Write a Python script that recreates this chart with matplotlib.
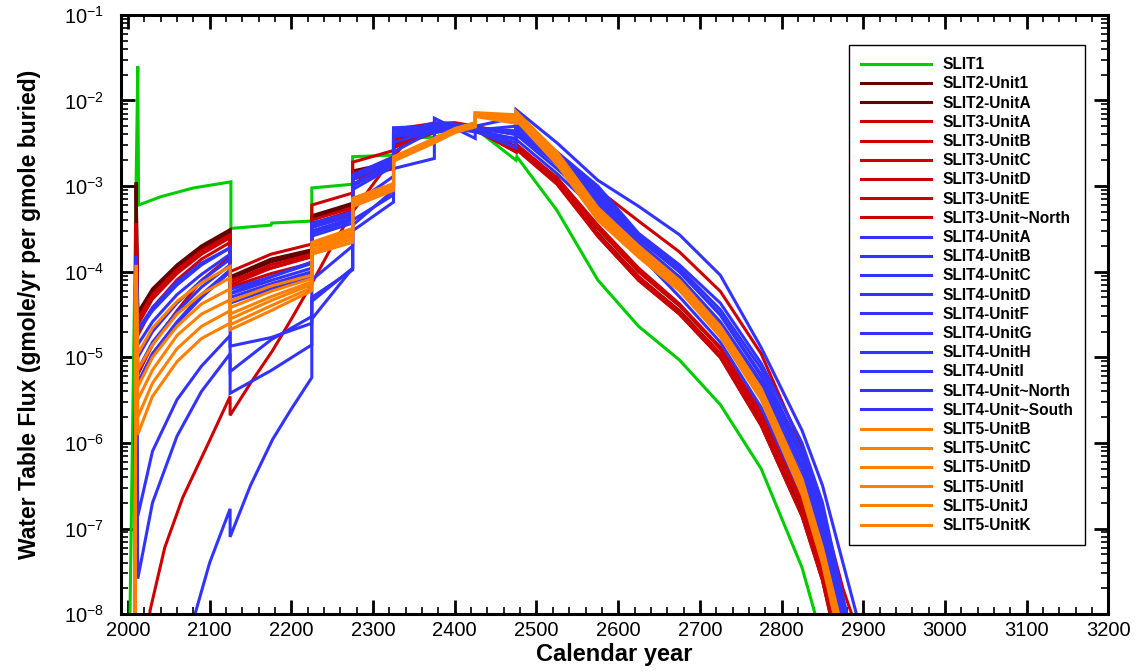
import matplotlib
matplotlib.use("Agg")
import matplotlib.pyplot as plt
from matplotlib.ticker import MultipleLocator, LogLocator, NullFormatter, FixedLocator

plt.rcParams['font.family'] = ['Liberation Sans', 'DejaVu Sans']

# --- data (year, flux) ---
# common year grid; repeated years are the step changes
YR_STD = [2008, 2010, 2012, 2030, 2060, 2090, 2125, 2125, 2175, 2225, 2225, 2275, 2275,
          2325, 2325, 2375, 2400, 2425, 2425, 2475, 2475, 2525, 2575, 2625, 2675, 2725,
          2775, 2825, 2850, 2875, 2900]

yr_slit1 = [2002, 2012, 2013, 2040, 2080, 2126, 2126, 2175, 2176, 2225, 2225, 2275, 2275,
            2325, 2325, 2375, 2400, 2425, 2475, 2476, 2525, 2575, 2625, 2675, 2725, 2775,
            2825, 2850]
q_slit1 = [5e-9, 2.5e-2, 6.0e-4, 7.5e-4, 9.5e-4, 1.12e-3, 3.2e-4, 3.5e-4, 3.7e-4, 3.9e-4,
           9.5e-4, 1.05e-3, 2.2e-3, 2.3e-3, 3.7e-3, 3.7e-3, 4.4e-3, 4.7e-3, 2.0e-3, 2.2e-3,
           5.2e-4, 8.0e-5, 2.3e-5, 9.3e-6, 2.8e-6, 5.0e-7, 3.5e-8, 5e-9]

q_slit2_unit1 = [1e-9, 1.1e-3, 3.3e-5, 6.3e-5, 1.2e-4, 2.0e-4, 3.1e-4, 8.7e-5, 1.4e-4, 1.8e-4,
                 4.5e-4, 6.3e-4, 1.5e-3, 1.9e-3, 3.2e-3, 4.5e-3, 5.0e-3, 5.0e-3, 5.0e-3, 2.8e-3,
                 3.0e-3, 1.2e-3, 2.8e-4, 8.7e-5, 3.5e-5, 1.1e-5, 1.8e-6, 1.6e-7, 2.8e-8, 2.5e-9, 1e-10]
q_slit2_unitA = [1e-9, 1.0e-3, 3.0e-5, 5.8e-5, 1.1e-4, 1.85e-4, 2.9e-4, 8.3e-5, 1.3e-4, 1.7e-4,
                 4.2e-4, 6.0e-4, 1.4e-3, 1.85e-3, 3.1e-3, 4.4e-3, 4.9e-3, 4.9e-3, 4.9e-3, 2.7e-3,
                 2.9e-3, 1.15e-3, 2.6e-4, 8.0e-5, 3.2e-5, 1.0e-5, 1.6e-6, 1.4e-7, 2.5e-8, 2.2e-9, 1e-10]

q_slit3_unitA = [1e-9, 3.7e-4, 2.8e-5, 5.4e-5, 1.05e-4, 1.75e-4, 2.7e-4, 7.6e-5, 1.2e-4, 1.6e-4,
                 3.6e-4, 5.2e-4, 1.3e-3, 1.7e-3, 2.9e-3, 4.3e-3, 4.9e-3, 4.8e-3, 4.8e-3, 2.6e-3,
                 2.8e-3, 1.1e-3, 2.7e-4, 8.7e-5, 3.4e-5, 1.1e-5, 1.9e-6, 1.8e-7, 3.2e-8, 3.5e-9, 2e-10]
q_slit3_unitB = [1e-9, 3.5e-4, 2.4e-5, 4.8e-5, 9.5e-5, 1.6e-4, 2.5e-4, 7.0e-5, 1.1e-4, 1.5e-4,
                 3.3e-4, 4.8e-4, 1.2e-3, 1.6e-3, 2.8e-3, 4.2e-3, 4.8e-3, 4.7e-3, 4.7e-3, 2.9e-3,
                 3.1e-3, 1.25e-3, 3.2e-4, 1.0e-4, 4.0e-5, 1.3e-5, 2.3e-6, 2.2e-7, 4.0e-8, 4.5e-9, 2e-10]
q_slit3_unitC = [1e-9, 3.3e-4, 1.8e-5, 3.8e-5, 8.0e-5, 1.4e-4, 2.2e-4, 7.9e-5, 1.1e-4, 1.5e-4,
                 4.0e-4, 5.6e-4, 1.4e-3, 2.0e-3, 3.8e-3, 4.8e-3, 5.0e-3, 4.7e-3, 4.7e-3, 2.5e-3,
                 2.7e-3, 1.05e-3, 2.6e-4, 7.9e-5, 3.2e-5, 1.0e-5, 1.6e-6, 1.4e-7, 2.5e-8, 2.2e-9, 1e-10]
q_slit3_unitD = [1e-9, 3.0e-4, 6.3e-6, 1.4e-5, 3.5e-5, 7.9e-5, 1.5e-4, 6.6e-5, 9.5e-5, 1.26e-4,
                 3.5e-4, 5.0e-4, 1.26e-3, 1.8e-3, 3.5e-3, 4.5e-3, 4.8e-3, 4.5e-3, 4.5e-3, 2.5e-3,
                 2.8e-3, 1.26e-3, 3.5e-4, 1.1e-4, 4.2e-5, 1.3e-5, 2.2e-6, 2.0e-7, 3.5e-8, 3.2e-9, 1e-10]
yr_slit3_unitE = [2020, 2027, 2045, 2067, 2100, 2125, 2125, 2150, 2177, 2200, 2226, 2250, 2275,
                  2300, 2325, 2350, 2375, 2400, 2425, 2475, 2525, 2575, 2625, 2675, 2725, 2775,
                  2825, 2850, 2875, 2900]
q_slit3_unitE = [1e-9, 1.1e-8, 6e-8, 2.3e-7, 1.07e-6, 3.5e-6, 2.1e-6, 5e-6, 1.2e-5, 2.8e-5,
                 7.6e-5, 2e-4, 5e-4, 1.05e-3, 2.2e-3, 4.2e-3, 5.2e-3, 5.3e-3, 5.0e-3, 2.8e-3,
                 1.1e-3, 3.2e-4, 1e-4, 4e-5, 1.26e-5, 2e-6, 1.8e-7, 3.2e-8, 3.2e-9, 1e-10]
q_slit3_north = [1e-9, 3.7e-4, 2.5e-5, 5.0e-5, 1.0e-4, 1.7e-4, 2.6e-4, 1.0e-4, 1.6e-4, 2.1e-4,
                 6.0e-4, 8.3e-4, 1.9e-3, 2.6e-3, 4.6e-3, 5.4e-3, 5.5e-3, 5.0e-3, 5.0e-3, 4.0e-3,
                 4.2e-3, 2.4e-3, 9.1e-4, 3.9e-4, 1.7e-4, 5.9e-5, 1.1e-5, 8.9e-7, 1.6e-7, 2.0e-8, 4.0e-9]

q_slit4_unitA = [1e-9, 1.5e-4, 2.0e-5, 3.5e-5, 7.0e-5, 1.2e-4, 1.9e-4, 6.2e-5, 8.7e-5, 1.25e-4,
                 3.7e-4, 4.9e-4, 1.35e-3, 2.2e-3, 4.8e-3, 5.0e-3, 5.0e-3, 4.5e-3, 4.5e-3, 5.0e-3,
                 6.3e-3, 2.5e-3, 1.0e-3, 2.8e-4, 1.2e-4, 4.3e-5, 8.5e-6, 1.0e-6, 2.0e-7, 1.6e-8, 1.6e-9]
q_slit4_unitB = [1e-9, 1.4e-4, 1.4e-5, 2.6e-5, 5.4e-5, 9.3e-5, 1.6e-4, 5.5e-5, 7.9e-5, 1.1e-4,
                 3.3e-4, 4.5e-4, 1.2e-3, 2.0e-3, 4.4e-3, 4.7e-3, 5.0e-3, 4.7e-3, 4.7e-3, 4.0e-3,
                 5.0e-3, 2.1e-3, 8.3e-4, 2.4e-4, 1.0e-4, 3.2e-5, 6.3e-6, 7.1e-7, 1.4e-7, 1.26e-8, 1.26e-9]
q_slit4_unitC = [1e-9, 1.3e-4, 1.0e-5, 2.0e-5, 4.3e-5, 7.9e-5, 1.4e-4, 5.0e-5, 7.2e-5, 1.0e-4,
                 3.0e-4, 4.2e-4, 1.05e-3, 1.9e-3, 4.0e-3, 4.5e-3, 4.8e-3, 4.5e-3, 4.5e-3, 3.5e-3,
                 4.5e-3, 1.8e-3, 7.1e-4, 2.1e-4, 8.3e-5, 2.5e-5, 4.8e-6, 5.0e-7, 1.0e-7, 8.9e-9, 1e-9]
q_slit4_unitD = [1e-9, 1.2e-4, 7.1e-6, 1.5e-5, 3.4e-5, 6.6e-5, 1.2e-4, 4.3e-5, 6.3e-5, 8.7e-5,
                 2.6e-4, 3.7e-4, 9.1e-4, 1.7e-3, 3.8e-3, 4.2e-3, 4.6e-3, 4.3e-3, 4.3e-3, 3.2e-3,
                 4.0e-3, 1.6e-3, 6.0e-4, 1.8e-4, 6.9e-5, 2.0e-5, 3.5e-6, 3.5e-7, 7.1e-8, 6.3e-9, 1e-9]
q_slit4_unitF = [1e-9, 1.1e-4, 5.0e-6, 1.1e-5, 2.6e-5, 5.4e-5, 1.05e-4, 4.5e-5, 6.8e-5, 9.3e-5,
                 2.8e-4, 4.0e-4, 1.0e-3, 1.8e-3, 4.0e-3, 4.4e-3, 4.8e-3, 4.4e-3, 4.4e-3, 2.8e-3,
                 3.5e-3, 1.4e-3, 5.0e-4, 1.6e-4, 5.1e-5, 1.5e-5, 2.6e-6, 2.5e-7, 5.6e-8, 5.0e-9, 1e-9]
q_slit4_unitG = [1e-9, 1.4e-4, 2.6e-8, 2.0e-7, 1.2e-6, 4.0e-6, 1.1e-5, 3.8e-6, 7.0e-6, 1.4e-5,
                 4.5e-5, 1.1e-4, 4.0e-4, 7.9e-4, 3.2e-3, 4.5e-3, 5.0e-3, 4.8e-3, 4.8e-3, 4.2e-3,
                 5.0e-3, 2.2e-3, 8.5e-4, 2.5e-4, 1.0e-4, 3.1e-5, 6.0e-6, 6.5e-7, 1.3e-7, 1.2e-8, 1e-9]
q_slit4_unitH = [1e-9, 1.5e-4, 1.4e-7, 8.0e-7, 3.2e-6, 7.9e-6, 1.8e-5, 6.8e-6, 1.6e-5, 3.0e-5,
                 8.0e-5, 2.0e-4, 6.0e-4, 1.3e-3, 4.0e-3, 5.5e-3, 5.3e-3, 4.8e-3, 4.8e-3, 4.4e-3,
                 5.4e-3, 2.3e-3, 9.0e-4, 2.7e-4, 1.1e-4, 3.6e-5, 7.4e-6, 8.0e-7, 1.6e-7, 1.5e-8, 1.4e-9]
yr_slit4_unitI = [2075, 2082, 2100, 2125, 2125, 2150, 2177, 2200, 2225, 2225, 2275, 2275, 2325,
                  2325, 2375, 2400, 2425, 2475, 2475, 2525, 2575, 2625, 2675, 2725, 2775, 2825,
                  2850, 2875, 2900]
q_slit4_unitI = [1e-9, 1e-8, 4e-8, 1.7e-7, 8e-8, 3.2e-7, 1.1e-6, 2.5e-6, 5.8e-6, 2.8e-5, 1.1e-4,
                 3.5e-4, 8.9e-4, 2.5e-3, 4.5e-3, 5.0e-3, 4.5e-3, 3.5e-3, 4.3e-3, 1.8e-3, 6.6e-4,
                 2.0e-4, 7.6e-5, 2.3e-5, 4.2e-6, 4.2e-7, 8.5e-8, 7.5e-9, 7e-10]
yr_slit4_north = [2008, 2010, 2012, 2030, 2060, 2090, 2125, 2125, 2175, 2225, 2225, 2275, 2275,
                  2325, 2325, 2375, 2375, 2425, 2425, 2475, 2475, 2525, 2575, 2625, 2675, 2725,
                  2775, 2825, 2850, 2875, 2900]
q_slit4_north = [1e-9, 1.3e-4, 5.0e-6, 1.1e-5, 2.5e-5, 5.0e-5, 1.0e-4, 1.35e-5, 1.7e-5, 2.5e-5,
                 5.0e-5, 1.05e-4, 3.0e-4, 6.5e-4, 1.6e-3, 2.1e-3, 6.2e-3, 3.6e-3, 4.3e-3, 3.6e-3,
                 4.5e-3, 2.0e-3, 7.6e-4, 2.2e-4, 8.7e-5, 2.6e-5, 5.2e-6, 5.5e-7, 1.1e-7, 9.5e-9, 9e-10]
q_slit4_south = [1e-9, 1.5e-4, 2.1e-5, 3.8e-5, 7.6e-5, 1.26e-4, 1.9e-4, 5.6e-5, 8.7e-5, 1.3e-4,
                 3.5e-4, 5.0e-4, 1.26e-3, 2.1e-3, 4.5e-3, 5.0e-3, 5.2e-3, 5.0e-3, 5.0e-3, 6.3e-3,
                 7.8e-3, 3.2e-3, 1.17e-3, 5.8e-4, 2.7e-4, 9.1e-5, 1.3e-5, 1.4e-6, 3.2e-7, 4.0e-8, 5.0e-9]

q_slit5_unitB = [1e-9, 1.2e-4, 1.1e-5, 2.2e-5, 4.5e-5, 7.4e-5, 1.15e-4, 4.5e-5, 6.8e-5, 9.1e-5,
                 2.2e-4, 3.2e-4, 7.2e-4, 1.07e-3, 2.2e-3, 3.6e-3, 4.7e-3, 5.5e-3, 7.2e-3, 6.8e-3,
                 7.4e-3, 2.5e-3, 5.6e-4, 2.0e-4, 7.9e-5, 2.3e-5, 4.3e-6, 3.8e-7, 6.0e-8, 6.3e-9, 1e-10]
q_slit5_unitC = [1e-9, 1.0e-4, 7.1e-6, 1.4e-5, 3.2e-5, 5.5e-5, 8.5e-5, 3.8e-5, 5.9e-5, 8.3e-5,
                 2.1e-4, 2.95e-4, 6.9e-4, 1.02e-3, 2.15e-3, 3.55e-3, 4.6e-3, 5.4e-3, 7.1e-3, 6.5e-3,
                 7.1e-3, 2.35e-3, 5.2e-4, 1.86e-4, 7.4e-5, 2.1e-5, 4.0e-6, 3.5e-7, 5.5e-8, 5.6e-9, 1e-10]
q_slit5_unitD = [1e-9, 9e-5, 4.5e-6, 1.0e-5, 2.3e-5, 4.2e-5, 6.3e-5, 3.2e-5, 5.1e-5, 7.6e-5,
                 1.95e-4, 2.75e-4, 6.6e-4, 1.0e-3, 2.1e-3, 3.45e-3, 4.5e-3, 5.25e-3, 6.9e-3, 6.2e-3,
                 6.8e-3, 2.2e-3, 4.9e-4, 1.78e-4, 7.1e-5, 2.05e-5, 3.8e-6, 3.2e-7, 5.0e-8, 5.0e-9, 1e-10]
q_slit5_unitI = [1e-9, 8e-5, 3.2e-6, 7.1e-6, 1.8e-5, 3.2e-5, 4.7e-5, 2.8e-5, 4.6e-5, 7.1e-5,
                 1.8e-4, 2.6e-4, 6.3e-4, 9.5e-4, 2.05e-3, 3.4e-3, 4.4e-3, 5.1e-3, 6.8e-3, 5.9e-3,
                 6.5e-3, 2.05e-3, 4.6e-4, 1.7e-4, 6.8e-5, 1.95e-5, 3.6e-6, 2.95e-7, 4.7e-8, 4.5e-9, 1e-10]
q_slit5_unitJ = [1e-9, 7e-5, 2.0e-6, 5.0e-6, 1.26e-5, 2.3e-5, 3.5e-5, 2.4e-5, 4.0e-5, 6.5e-5,
                 1.7e-4, 2.4e-4, 6.0e-4, 9.3e-4, 2.0e-3, 3.3e-3, 4.3e-3, 5.0e-3, 6.6e-3, 5.6e-3,
                 6.2e-3, 1.9e-3, 4.3e-4, 1.6e-4, 6.3e-5, 1.8e-5, 3.4e-6, 2.75e-7, 4.3e-8, 4.0e-9, 1e-10]
q_slit5_unitK = [1e-9, 6e-5, 1.26e-6, 3.5e-6, 8.9e-6, 1.66e-5, 2.5e-5, 2.1e-5, 3.5e-5, 6.0e-5,
                 1.6e-4, 2.2e-4, 5.75e-4, 8.9e-4, 1.95e-3, 3.2e-3, 4.2e-3, 4.9e-3, 6.5e-3, 5.4e-3,
                 5.9e-3, 1.8e-3, 4.0e-4, 1.48e-4, 6.0e-5, 1.74e-5, 3.2e-6, 2.5e-7, 3.9e-8, 3.5e-9, 1e-10]

GREEN, DKRED, RED, BLUE, ORANGE = '#00CC00', '#640000', '#CC0000', '#3333FF', '#FF8000'

series = [
    ('SLIT1', GREEN, yr_slit1, q_slit1),
    ('SLIT2-Unit1', DKRED, YR_STD, q_slit2_unit1),
    ('SLIT2-UnitA', DKRED, YR_STD, q_slit2_unitA),
    ('SLIT3-UnitA', RED, YR_STD, q_slit3_unitA),
    ('SLIT3-UnitB', RED, YR_STD, q_slit3_unitB),
    ('SLIT3-UnitC', RED, YR_STD, q_slit3_unitC),
    ('SLIT3-UnitD', RED, YR_STD, q_slit3_unitD),
    ('SLIT3-UnitE', RED, yr_slit3_unitE, q_slit3_unitE),
    ('SLIT3-Unit~North', RED, YR_STD, q_slit3_north),
    ('SLIT4-UnitA', BLUE, YR_STD, q_slit4_unitA),
    ('SLIT4-UnitB', BLUE, YR_STD, q_slit4_unitB),
    ('SLIT4-UnitC', BLUE, YR_STD, q_slit4_unitC),
    ('SLIT4-UnitD', BLUE, YR_STD, q_slit4_unitD),
    ('SLIT4-UnitF', BLUE, YR_STD, q_slit4_unitF),
    ('SLIT4-UnitG', BLUE, YR_STD, q_slit4_unitG),
    ('SLIT4-UnitH', BLUE, YR_STD, q_slit4_unitH),
    ('SLIT4-UnitI', BLUE, yr_slit4_unitI, q_slit4_unitI),
    ('SLIT4-Unit~North', BLUE, yr_slit4_north, q_slit4_north),
    ('SLIT4-Unit~South', BLUE, YR_STD, q_slit4_south),
    ('SLIT5-UnitB', ORANGE, YR_STD, q_slit5_unitB),
    ('SLIT5-UnitC', ORANGE, YR_STD, q_slit5_unitC),
    ('SLIT5-UnitD', ORANGE, YR_STD, q_slit5_unitD),
    ('SLIT5-UnitI', ORANGE, YR_STD, q_slit5_unitI),
    ('SLIT5-UnitJ', ORANGE, YR_STD, q_slit5_unitJ),
    ('SLIT5-UnitK', ORANGE, YR_STD, q_slit5_unitK),
]

fig = plt.figure(figsize=(11.38, 6.72), dpi=100)
ax = fig.add_axes([0.106, 0.086, 0.868, 0.892])

for name, col, yrs, q in series:
    ax.plot(yrs, q, color=col, lw=2.2, label=name, solid_joinstyle='miter')

ax.set_yscale('log')
ax.set_xlim(1991, 3200)
ax.set_ylim(1e-8, 1e-1)

ax.xaxis.set_major_locator(MultipleLocator(100))
ax.xaxis.set_minor_locator(MultipleLocator(20))
ax.yaxis.set_major_locator(FixedLocator([10.0**e for e in range(-8, 0)]))
ax.yaxis.set_minor_locator(LogLocator(base=10, subs=range(2, 10), numticks=20))
ax.yaxis.set_minor_formatter(NullFormatter())
ax.set_yticklabels([r'$\mathregular{10^{%d}}$' % e for e in range(-8, 0)])

ax.tick_params(which='both', direction='in', top=True, right=True, labelsize=14.5)
ax.tick_params(which='major', length=10, width=2)
ax.tick_params(which='minor', length=5, width=1.2)
ax.tick_params(axis='x', pad=5)
ax.tick_params(axis='y', pad=12)
for sp in ax.spines.values():
    sp.set_linewidth(2.2)

ax.set_xlabel('Calendar year', fontsize=17, fontweight='bold', labelpad=2)
ax.set_ylabel('Water Table Flux (gmole/yr per gmole buried)', fontsize=16.5,
              fontweight='bold', labelpad=16)

leg = ax.legend(loc='upper right', bbox_to_anchor=(0.9767, 0.950), borderaxespad=0,
                prop={'weight': 'bold', 'size': 11.2}, handlelength=4.5, handletextpad=0.7,
                labelspacing=0.27, borderpad=0.8, fancybox=False, framealpha=1)
leg.get_frame().set_edgecolor('black')
leg.get_frame().set_linewidth(1.0)

fig.savefig('out.png', dpi=100)
